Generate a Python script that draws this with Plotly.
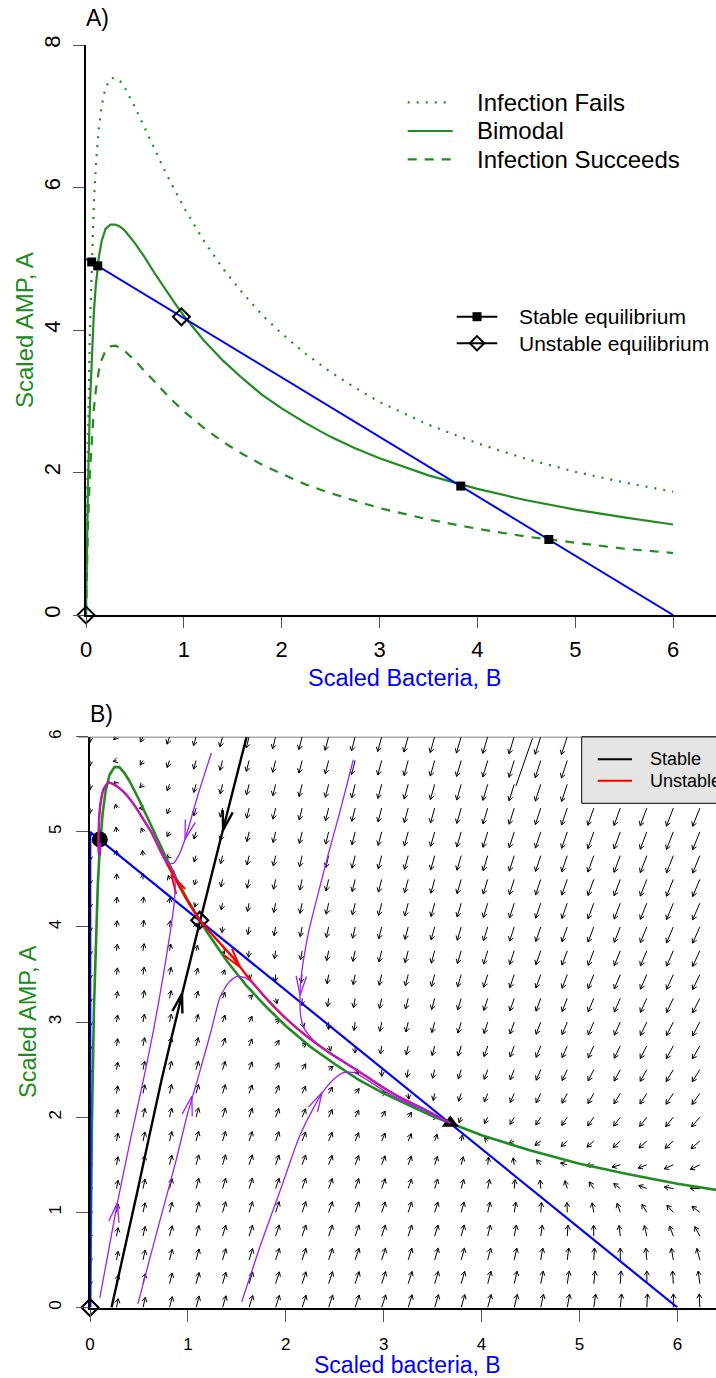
import math
import numpy as np
import plotly.graph_objects as go

W, H = 716, 1378
FONT = "Liberation Sans, Arial, Helvetica, sans-serif"
GREEN = "#228B22"
BLUE = "#0000FF"
RED = "#FF0000"
PURPLE = "#A020F0"

# ---------------- Panel A data ----------------
curve_B = [0, 0.01, 0.02, 0.04, 0.06, 0.08, 0.10, 0.13, 0.16, 0.20, 0.25, 0.30, 0.35, 0.40,
           0.50, 0.60, 0.70, 0.80, 0.90, 1.00, 1.20, 1.40, 1.60, 1.80, 2.00, 2.25, 2.50,
           2.75, 3.00, 3.50, 4.00, 4.50, 5.00, 5.50, 6.00]
fails_A = [0, 1.37, 2.45, 4.00, 5.04, 5.77, 6.29, 6.82, 7.15, 7.40, 7.53, 7.54, 7.49, 7.39,
           7.13, 6.83, 6.53, 6.25, 5.98, 5.72, 5.26, 4.86, 4.52, 4.21, 3.95, 3.66, 3.41,
           3.19, 2.99, 2.67, 2.41, 2.19, 2.01, 1.86, 1.73]
bimodal_A = [0, 1.01, 1.80, 2.94, 3.70, 4.24, 4.62, 5.01, 5.25, 5.42, 5.48, 5.48, 5.45, 5.39,
             5.22, 5.02, 4.80, 4.59, 4.39, 4.20, 3.86, 3.57, 3.32, 3.09, 2.90, 2.69, 2.50,
             2.34, 2.20, 1.96, 1.77, 1.61, 1.48, 1.37, 1.27]
succeeds_A = [0, 0.69, 1.23, 2.00, 2.52, 2.89, 3.15, 3.42, 3.58, 3.71, 3.77, 3.78, 3.75, 3.70,
              3.57, 3.42, 3.27, 3.13, 2.99, 2.86, 2.63, 2.43, 2.26, 2.11, 1.98, 1.83, 1.71,
              1.60, 1.50, 1.34, 1.21, 1.10, 1.01, 0.93, 0.87]
bnull_B = [0, 6]
bnull_A = [5, 0]
stableA_B = [0.058, 0.12, 3.83, 4.73]
stableA_A = [4.955, 4.90, 1.81, 1.06]
unstableA_B = [0.0, 0.975]
unstableA_A = [0.0, 4.185]
ticksA_x = [0, 1, 2, 3, 4, 5, 6]
ticksA_y = [0, 2, 4, 6, 8]
legendA_curves = ["Infection Fails", "Bimodal", "Infection Succeeds"]
legendA_eq = ["Stable equilibrium", "Unstable equilibrium"]

# ---------------- Panel B data ----------------
anull_B = [0, 0.01, 0.02, 0.04, 0.06, 0.08, 0.10, 0.13, 0.16, 0.20, 0.25, 0.30, 0.35, 0.40,
           0.50, 0.60, 0.70, 0.80, 0.90, 1.00, 1.20, 1.40, 1.60, 1.80, 2.00, 2.25, 2.50,
           2.75, 3.00, 3.50, 4.00, 4.50, 5.00, 5.50, 6.00, 6.50]
anull_A = [0, 1.10, 1.95, 3.13, 3.92, 4.45, 4.83, 5.20, 5.43, 5.60, 5.68, 5.68, 5.62, 5.54,
           5.34, 5.12, 4.89, 4.68, 4.47, 4.28, 3.94, 3.64, 3.38, 3.16, 2.96, 2.74, 2.56,
           2.39, 2.25, 2.01, 1.81, 1.65, 1.51, 1.40, 1.30, 1.22]
bnullB_B = [0, 6]
bnullB_A = [5, 0]
bnullB_axis_B = [0, 0]
bnullB_axis_A = [0, 5]

stable_manifold_B = [0.22, 0.48, 0.73, 0.93, 1.124, 1.345, 1.60]
stable_manifold_A = [0.0, 1.20, 2.39, 3.25, 4.06, 4.97, 6.00]
unstable_up_B = [1.12, 1.04, 0.97, 0.89, 0.80, 0.72, 0.63, 0.54, 0.46, 0.38, 0.30, 0.24,
                 0.19, 0.14, 0.105, 0.09, 0.087, 0.092, 0.100, 0.105]
unstable_up_A = [4.07, 4.20, 4.32, 4.47, 4.64, 4.80, 4.99, 5.14, 5.27, 5.38, 5.46, 5.50,
                 5.52, 5.45, 5.28, 5.05, 4.85, 4.75, 4.78, 4.88]
unstable_low_B = [1.12, 1.30, 1.46, 1.60, 1.80, 2.00, 2.24, 2.50, 2.72, 3.00, 3.20, 3.40, 3.55, 3.68]
unstable_low_A = [4.07, 3.86, 3.68, 3.49, 3.25, 3.04, 2.83, 2.64, 2.50, 2.31, 2.19, 2.09, 2.01, 1.94]

traj1_B = [0.10, 0.19, 0.28, 0.42, 0.545, 0.65, 0.75, 0.82, 0.86, 0.87, 0.86, 0.80, 0.72, 0.63,
           0.54, 0.46, 0.38, 0.30, 0.24, 0.19, 0.14, 0.105, 0.09, 0.087, 0.092, 0.100, 0.105]
traj1_A = [0.10, 0.60, 1.10, 1.80, 2.39, 2.92, 3.50, 3.95, 4.25, 4.45, 4.58, 4.66, 4.80, 4.99,
           5.14, 5.27, 5.38, 5.46, 5.50, 5.52, 5.45, 5.28, 5.05, 4.85, 4.75, 4.78, 4.88]
traj2_B = [0.49, 0.62, 0.75, 0.88, 1.00, 1.10, 1.24, 1.33, 1.42, 1.50, 1.58, 1.66, 1.80, 2.00,
           2.24, 2.50, 2.72, 3.00, 3.20, 3.40, 3.55, 3.68]
traj2_A = [0.04, 0.55, 1.05, 1.55, 2.05, 2.40, 2.92, 3.27, 3.42, 3.48, 3.47, 3.41, 3.25, 3.04,
           2.83, 2.64, 2.50, 2.31, 2.19, 2.09, 2.01, 1.94]
traj3_B = [1.55, 1.75, 1.95, 2.14, 2.30, 2.38, 2.49, 2.59, 2.70, 2.85, 3.00, 3.20, 3.40, 3.55, 3.68]
traj3_A = [0.06, 0.68, 1.25, 1.80, 2.13, 2.27, 2.40, 2.47, 2.47, 2.38, 2.28, 2.17, 2.08, 2.00, 1.94]
traj4_B = [1.24, 1.10, 0.97, 0.90, 0.85, 0.80, 0.75, 0.72, 0.63, 0.54, 0.46, 0.38, 0.30, 0.24,
           0.19, 0.14, 0.105, 0.09, 0.087, 0.092, 0.100, 0.105]
traj4_A = [5.83, 5.38, 4.92, 4.74, 4.67, 4.67, 4.73, 4.80, 4.99, 5.14, 5.27, 5.38, 5.46, 5.50,
           5.52, 5.45, 5.28, 5.05, 4.85, 4.75, 4.78, 4.88]
traj5_B = [2.69, 2.55, 2.43, 2.33, 2.24, 2.18, 2.15, 2.145, 2.15, 2.18, 2.23, 2.30, 2.50, 2.72,
           3.00, 3.20, 3.40, 3.55, 3.68]
traj5_A = [5.76, 5.20, 4.75, 4.35, 3.98, 3.65, 3.40, 3.25, 3.08, 2.95, 2.87, 2.79, 2.64, 2.50,
           2.31, 2.19, 2.09, 2.01, 1.94]
extra_B = [4.52, 4.35]
extra_A = [5.985, 5.48]

# arrow heads on curves: (tip B, tip A, earlier B, earlier A)
purple_heads = [(0.28, 1.10, 0.19, 0.60), (1.04, 2.22, 0.94, 1.80), (2.37, 2.26, 2.20, 1.93),
                (0.97, 4.92, 1.10, 5.38), (2.145, 3.28, 2.17, 3.65)]
red_heads = [(0.83, 4.55, 0.95, 4.33), (1.53, 3.58, 1.40, 3.75)]
black_heads = [(0.94, 3.30, 0.80, 2.72), (1.36, 5.02, 1.45, 5.40)]

stableB_circle = (0.10, 4.92)
stableB_tri = (3.68, 1.94)
unstableB_B = [1.12, 0.0]
unstableB_A = [4.07, 0.0]
ticksB = [0, 1, 2, 3, 4, 5, 6]
legendB = ["Stable", "Unstable"]

# flow-field model whose nullclines are the blue and green curves of panel B
BLUE_A_INT, BLUE_B_INT = 5.0, 6.0
AMP_PROD, AMP_HALF, AMP_DECAY, AMP_RATE = 9.237, 1.0125, 0.072, 3.5
GRID_N = 25
GRID_BMAX, GRID_AMAX = 6.5, 6.0
ARROW_MAX_PX, ARROW_GAMMA, ARROW_HEAD_PX = 21.0, 0.3, 5.0

# ---------------- pixel frames ----------------
A_X0, A_XPX = 86.0, 97.85
A_Y0, A_YPX = 615.0, 71.25
B_X0, B_XPX = 90.0, 97.9
B_Y0, B_YPX = 1307.5, 95.13


def px(x):
    return x / W


def py(y):
    return 1 - y / H


def head_arms(tx, ty, dx, dy, length_px, ang_deg, sx, sy):
    """Arrowhead arm end points; direction (dx, dy) given in pixels."""
    n = math.hypot(dx, dy)
    ux, uy = -dx / n, -dy / n
    out = []
    for s in (1, -1):
        a = math.radians(ang_deg) * s
        rx = ux * math.cos(a) - uy * math.sin(a)
        ry = ux * math.sin(a) + uy * math.cos(a)
        out.append((tx + rx * length_px / sx, ty + ry * length_px / sy))
    return out


def heads_xy(heads, length_px, ang, sx, sy):
    xs, ys = [], []
    for tx, ty, fx, fy in heads:
        (x1, y1), (x2, y2) = head_arms(tx, ty, (tx - fx) * sx, (ty - fy) * sy, length_px, ang, sx, sy)
        xs += [x1, tx, x2, None]
        ys += [y1, ty, y2, None]
    return xs, ys


fig = go.Figure()

# ---------------- Panel A traces ----------------
fig.add_trace(go.Scatter(x=curve_B, y=fails_A, mode="lines", xaxis="x", yaxis="y",
                         line=dict(color=GREEN, width=2.2, dash="2px,7px")))
fig.add_trace(go.Scatter(x=curve_B, y=bimodal_A, mode="lines", xaxis="x", yaxis="y",
                         line=dict(color=GREEN, width=2.2)))
fig.add_trace(go.Scatter(x=curve_B, y=succeeds_A, mode="lines", xaxis="x", yaxis="y",
                         line=dict(color=GREEN, width=2.2, dash="9px,8px")))
fig.add_trace(go.Scatter(x=bnull_B, y=bnull_A, mode="lines", xaxis="x", yaxis="y",
                         line=dict(color=BLUE, width=2)))
fig.add_trace(go.Scatter(x=stableA_B, y=stableA_A, mode="markers", xaxis="x", yaxis="y",
                         marker=dict(symbol="square", size=9, color="black"), cliponaxis=False))
fig.add_trace(go.Scatter(x=unstableA_B, y=unstableA_A, mode="markers", xaxis="x", yaxis="y",
                         marker=dict(symbol="diamond-open", size=13, color="black",
                                     line=dict(width=2, color="black")), cliponaxis=False))

# ---------------- Panel B traces ----------------
gB = np.linspace(0.0, GRID_BMAX, GRID_N)
gA = np.linspace(0.0, GRID_AMAX, GRID_N)
GB, GA = np.meshgrid(gB, gA)
dB = GB * (BLUE_A_INT * (1 - GB / BLUE_B_INT) - GA)
dA = AMP_RATE * (AMP_PROD * GB / (AMP_HALF + GB) - GA * (AMP_DECAY + GB))
U = dB * B_XPX
V = dA * B_YPX
M = np.hypot(U, V)
Mmax = M.max()
ax_, ay_ = [], []
for u, v, m, b, a in zip(U.ravel(), V.ravel(), M.ravel(), GB.ravel(), GA.ravel()):
    if m < 1e-9:
        continue
    L = ARROW_MAX_PX * (m / Mmax) ** ARROW_GAMMA
    tx = b + u / m * L / B_XPX
    ty = a + v / m * L / B_YPX
    ax_ += [b, tx, None]
    ay_ += [a, ty, None]
    (x1, y1), (x2, y2) = head_arms(tx, ty, u, v, ARROW_HEAD_PX, 30, B_XPX, B_YPX)
    ax_ += [x1, tx, x2, None]
    ay_ += [y1, ty, y2, None]
fig.add_trace(go.Scatter(x=ax_, y=ay_, mode="lines", xaxis="x2", yaxis="y2",
                         line=dict(color="black", width=1)))
fig.add_trace(go.Scatter(x=extra_B, y=extra_A, mode="lines", xaxis="x2", yaxis="y2",
                         line=dict(color="black", width=1)))

fig.add_trace(go.Scatter(x=anull_B, y=anull_A, mode="lines", xaxis="x2", yaxis="y2",
                         line=dict(color=GREEN, width=2.6)))
fig.add_trace(go.Scatter(x=bnullB_B, y=bnullB_A, mode="lines", xaxis="x2", yaxis="y2",
                         line=dict(color=BLUE, width=2.2)))
fig.add_trace(go.Scatter(x=bnullB_axis_B, y=bnullB_axis_A, mode="lines", xaxis="x2", yaxis="y2",
                         line=dict(color=BLUE, width=2.6), cliponaxis=False))

# equilibria
fig.add_trace(go.Scatter(x=[stableB_circle[0]], y=[stableB_circle[1]], mode="markers",
                         xaxis="x2", yaxis="y2",
                         marker=dict(symbol="circle", size=16, color="black"), cliponaxis=False))
fig.add_trace(go.Scatter(x=[stableB_tri[0]], y=[stableB_tri[1]], mode="markers",
                         xaxis="x2", yaxis="y2",
                         marker=dict(symbol="triangle-up", size=15, color="black"), cliponaxis=False))
fig.add_trace(go.Scatter(x=unstableB_B, y=unstableB_A, mode="markers", xaxis="x2", yaxis="y2",
                         marker=dict(symbol="diamond-open", size=13, color="black",
                                     line=dict(width=2.2, color="black")), cliponaxis=False))

# manifolds
fig.add_trace(go.Scatter(x=stable_manifold_B, y=stable_manifold_A, mode="lines", xaxis="x2", yaxis="y2",
                         line=dict(color="black", width=2.4, shape="spline", smoothing=0.6)))
hx, hy = heads_xy(black_heads, 20, 15, B_XPX, B_YPX)
fig.add_trace(go.Scatter(x=hx, y=hy, mode="lines", xaxis="x2", yaxis="y2",
                         line=dict(color="black", width=2.4)))
for xb, ya in [(unstable_up_B, unstable_up_A), (unstable_low_B, unstable_low_A)]:
    fig.add_trace(go.Scatter(x=xb, y=ya, mode="lines", xaxis="x2", yaxis="y2",
                             line=dict(color=RED, width=2.4, shape="spline", smoothing=0.6)))
hx, hy = heads_xy(red_heads, 20, 15, B_XPX, B_YPX)
fig.add_trace(go.Scatter(x=hx, y=hy, mode="lines", xaxis="x2", yaxis="y2",
                         line=dict(color=RED, width=2)))

# trajectories
for xb, ya in [(traj1_B, traj1_A), (traj2_B, traj2_A), (traj3_B, traj3_A),
               (traj4_B, traj4_A), (traj5_B, traj5_A)]:
    fig.add_trace(go.Scatter(x=xb, y=ya, mode="lines", xaxis="x2", yaxis="y2",
                             line=dict(color=PURPLE, width=1.3, shape="spline", smoothing=0.6)))
hx, hy = heads_xy(purple_heads, 20, 15, B_XPX, B_YPX)
fig.add_trace(go.Scatter(x=hx, y=hy, mode="lines", xaxis="x2", yaxis="y2",
                         line=dict(color=PURPLE, width=1.3)))

# ---------------- legends (pixel overlay axis) ----------------
shapes = []
annotations = []
legA_y = [102.3, 131.0, 159.3]
legA_dash = ["2px,7px", "solid", "9px,8px"]
for lab, yy, ds in zip(legendA_curves, legA_y, legA_dash):
    fig.add_trace(go.Scatter(x=[407.7, 452.7], y=[yy, yy], mode="lines", xaxis="x3", yaxis="y3",
                             line=dict(color=GREEN, width=2.2, dash=ds)))
    annotations.append(dict(x=px(475), y=py(yy), xref="paper", yref="paper", text=lab,
                            showarrow=False, xanchor="left", yanchor="middle",
                            font=dict(size=24, color="black", family=FONT)))
legE_y = [316.7, 343.3]
legE_sym = [dict(symbol="square", size=9, color="black"),
            dict(symbol="diamond-open", size=11, color="black", line=dict(width=2, color="black"))]
for lab, yy, sym in zip(legendA_eq, legE_y, legE_sym):
    fig.add_trace(go.Scatter(x=[456.7, 497.3], y=[yy, yy], mode="lines", xaxis="x3", yaxis="y3",
                             line=dict(color="black", width=2)))
    fig.add_trace(go.Scatter(x=[477.0], y=[yy], mode="markers", xaxis="x3", yaxis="y3",
                             marker=dict(**sym)))
    annotations.append(dict(x=px(517.3), y=py(yy), xref="paper", yref="paper", text=lab,
                            showarrow=False, xanchor="left", yanchor="middle",
                            font=dict(size=21, color="black", family=FONT)))

# panel B legend box
shapes.append(dict(type="rect", xref="paper", yref="paper", x0=px(581.7), x1=px(760),
                   y0=py(803.3), y1=py(736.7), fillcolor="#E5E5E5",
                   line=dict(color="black", width=1), layer="above"))
legB_y = [759.3, 780.7]
for lab, yy, col in zip(legendB, legB_y, ["black", RED]):
    shapes.append(dict(type="line", xref="paper", yref="paper", x0=px(597.7), x1=px(632),
                       y0=py(yy), y1=py(yy), line=dict(color=col, width=2), layer="above"))
    annotations.append(dict(x=px(647.7), y=py(yy), xref="paper", yref="paper", text=lab,
                            showarrow=False, xanchor="left", yanchor="middle",
                            font=dict(size=18, color="black", family=FONT)))

# top line of panel B
shapes.append(dict(type="line", xref="paper", yref="y2", x0=px(78), x1=1.0, y0=6, y1=6,
                   line=dict(color="#555555", width=1.5), layer="above"))

# panel labels and axis titles
annotations += [
    dict(x=px(84), y=py(18), text="A)", xanchor="left", yanchor="middle",
         font=dict(size=23, color="black", family=FONT)),
    dict(x=px(88), y=py(714), text="B)", xanchor="left", yanchor="middle",
         font=dict(size=23, color="black", family=FONT)),
    dict(x=px(404), y=py(678), text="Scaled Bacteria, B", xanchor="center", yanchor="middle",
         font=dict(size=23.5, color=BLUE, family=FONT)),
    dict(x=px(25), y=py(330), text="Scaled AMP, A", xanchor="center", yanchor="middle",
         textangle=-90, font=dict(size=24, color=GREEN, family=FONT)),
    dict(x=px(408), y=py(1365), text="Scaled bacteria, B", xanchor="center", yanchor="middle",
         font=dict(size=23, color=BLUE, family=FONT)),
    dict(x=px(28), y=py(1022), text="Scaled AMP, A", xanchor="center", yanchor="middle",
         textangle=-90, font=dict(size=23.5, color=GREEN, family=FONT)),
]
for an in annotations:
    an.setdefault("xref", "paper")
    an.setdefault("yref", "paper")
    an.setdefault("showarrow", False)

axis_common = dict(showgrid=False, zeroline=False, showline=True, linecolor="black",
                   ticks="outside", tickcolor="#555555", tickwidth=1.2, automargin=False)

fig.update_layout(
    width=W, height=H, margin=dict(l=0, r=0, t=0, b=0, autoexpand=False),
    paper_bgcolor="white", plot_bgcolor="rgba(0,0,0,0)", showlegend=False,
    font=dict(family=FONT, color="black"),
    xaxis=dict(axis_common, domain=[A_X0 / W, 1], range=[0, (W - A_X0) / A_XPX],
               tickvals=ticksA_x, ticklen=11, linewidth=1.5,
               tickfont=dict(size=22, family=FONT, color="black"),
               ticklabelstandoff=3, anchor="y"),
    yaxis=dict(axis_common, domain=[py(A_Y0), py(A_Y0 - 8 * A_YPX)], range=[0, 8],
               tickvals=ticksA_y, ticklen=11, linewidth=1.5, tickangle=-90,
               tickfont=dict(size=22, family=FONT, color="black"), ticklabelstandoff=4, anchor="x"),
    xaxis2=dict(axis_common, domain=[B_X0 / W, 1], range=[0, (W - B_X0) / B_XPX],
                tickvals=ticksB, ticklen=12, linewidth=2.2,
                tickfont=dict(size=17, family=FONT, color="black"),
                ticklabelstandoff=8, anchor="y2"),
    yaxis2=dict(axis_common, domain=[py(B_Y0), py(B_Y0 - 6 * B_YPX)], range=[0, 6],
                tickvals=ticksB, ticklen=12, linewidth=2.2, tickangle=-90,
                tickfont=dict(size=17, family=FONT, color="black"), ticklabelstandoff=8, anchor="x2"),
    xaxis3=dict(domain=[0, 1], range=[0, W], visible=False, anchor="y3", automargin=False),
    yaxis3=dict(domain=[0, 1], range=[H, 0], visible=False, anchor="x3", automargin=False),
    shapes=shapes, annotations=annotations,
)

fig.write_html("out.html", config={"displayModeBar": False},
               post_script="document.body.style.margin='0';")
